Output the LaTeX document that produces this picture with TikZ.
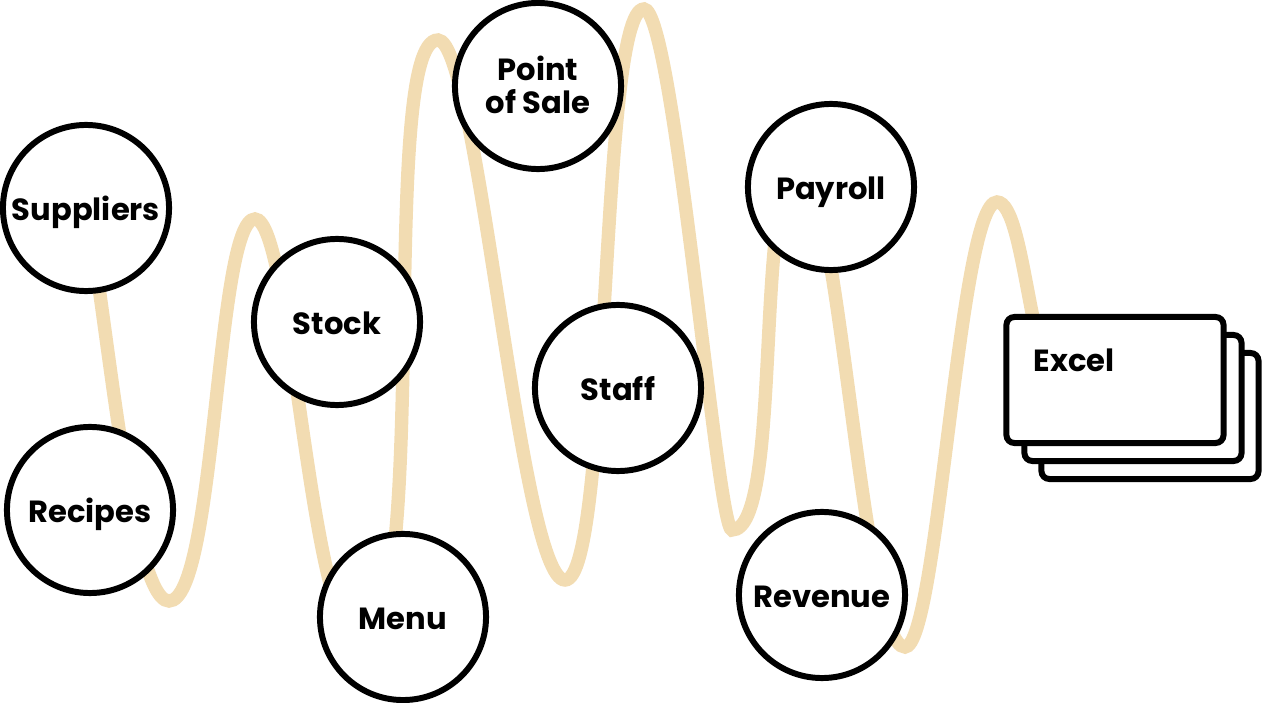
\documentclass[tikz,border=0pt]{standalone}
\usepackage{fontspec}
\setmainfont{Poppins}
\usetikzlibrary{positioning}
\definecolor{wheat}{RGB}{242,220,178}

\begin{document}
\begin{tikzpicture}[x=0.01cm, y=-0.01cm,
	wave/.style={wheat, line width=3.8pt},
	bubble/.style={circle, draw, fill=white, line width=1.7pt, minimum size=1.66cm, inner sep=0pt,
		font=\bfseries\fontsize{8.7}{9.4}\selectfont, align=center, text height=0.7em, text depth=0pt},
	sheet/.style={draw, fill=white, rounded corners=0.08cm, line width=1.7pt,
		minimum width=2.17cm, minimum height=1.26cm, inner sep=0pt}]

	\useasboundingbox (0,0) rectangle (1262,703);

	% the wave behind the circles
	\draw[wave] (80,200)
		.. controls +(18,0) and +(-44,0) .. (169,601)
		.. controls +(47,0) and +(-39,0) .. (255,219)
		.. controls +(37,0) and +(-50,0) .. (360,640)
		.. controls +(73,0) and +(-61,0) .. (438,40)
		.. controls +(40,0) and +(-45,0) .. (565,580)
		.. controls +(46,0) and +(-45,0) .. (644,9)
		.. controls +(30,0) and +(-15,0) .. (732,530)
		.. controls +(52,0) and +(-47,0) .. (800,170)
		.. controls +(39,0) and +(-43,0) .. (905,647)
		.. controls +(33,0) and +(-38,0) .. (997,202)
		.. controls +(30,0) and +(-40,0) .. (1070,400);

	\node[bubble] (suppliers) at (86,208) {Suppliers};
	\node[bubble] (recipes) at (90,510) {Recipes};
	\node[bubble] (stock) at (337,322) {Stock};
	\node[bubble] (menu) at (403,617) {Menu};
	\node[bubble, text height=15.5pt] (pos) at (538,86) {Point\\of Sale};
	\node[bubble] (staff) at (618,388) {Staff};
	\node[bubble] (payroll) at (831,187) {Payroll};
	\node[bubble] (revenue) at (822,595) {Revenue};

	% excel sheets
	\node[sheet] (sheet3) at (1150,416) {};
	\node[sheet] (sheet2) at (1133,398) {};
	\node[sheet] (excel) at (1115,380) {};
	\node[anchor=base west, inner sep=0pt, font=\bfseries\fontsize{8.7}{9.4}\selectfont] (excellabel) at (1033,371) {Excel};

\end{tikzpicture}
\end{document}
